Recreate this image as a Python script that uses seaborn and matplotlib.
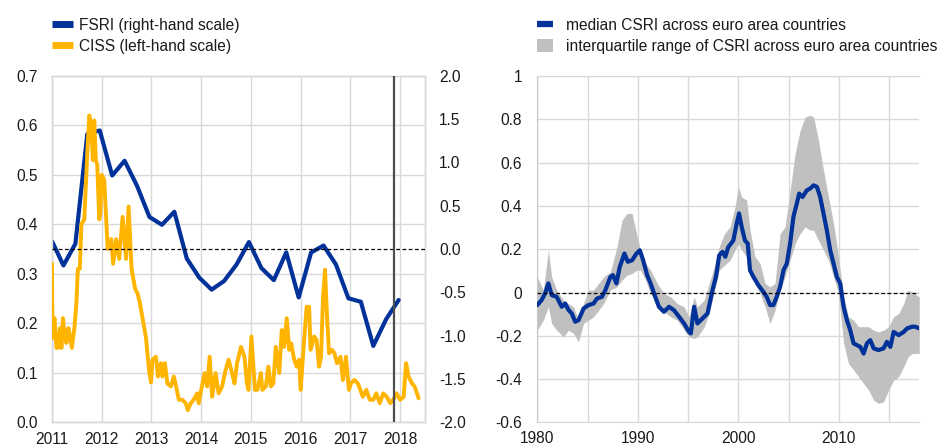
import matplotlib
matplotlib.use("Agg")
import matplotlib.pyplot as plt
import matplotlib.transforms as mtransforms
from matplotlib.lines import Line2D
from matplotlib.patches import Patch
import numpy as np
import pandas as pd
import seaborn as sns

# ---------------- data ----------------
# Left panel: FSRI (right-hand scale), quarterly
fsri_year = [2011.00, 2011.23, 2011.47, 2011.71, 2011.96, 2012.21, 2012.46, 2012.71,
             2012.96, 2013.21, 2013.46, 2013.71, 2013.96, 2014.21, 2014.46, 2014.71,
             2014.96, 2015.21, 2015.46, 2015.71, 2015.96, 2016.21, 2016.46, 2016.71,
             2016.96, 2017.21, 2017.46, 2017.72, 2017.97]
fsri_value = [0.09, -0.19, 0.06, 1.33, 1.37, 0.85, 1.02, 0.73,
              0.37, 0.28, 0.43, -0.11, -0.33, -0.47, -0.37, -0.18,
              0.08, -0.22, -0.36, -0.04, -0.56, -0.04, 0.04, -0.18,
              -0.57, -0.61, -1.12, -0.81, -0.59]

# Left panel: CISS (left-hand scale), weekly-ish readings
ciss_year = [2011.00, 2011.01, 2011.05, 2011.09, 2011.12, 2011.16, 2011.19, 2011.22, 2011.26,
             2011.29, 2011.33, 2011.35, 2011.40, 2011.45, 2011.49, 2011.52, 2011.56, 2011.59,
             2011.65, 2011.71, 2011.75, 2011.79, 2011.82, 2011.85, 2011.88, 2011.91, 2011.95,
             2011.97, 2012.00, 2012.05, 2012.12,
             2012.19, 2012.23, 2012.29, 2012.35, 2012.42, 2012.49,
             2012.54, 2012.60, 2012.67, 2012.72, 2012.77, 2012.82, 2012.89,
             2012.95, 2012.99, 2013.02, 2013.09, 2013.13, 2013.19, 2013.22, 2013.27, 2013.32,
             2013.39, 2013.45, 2013.51, 2013.55, 2013.62, 2013.69, 2013.73, 2013.79, 2013.85,
             2013.92, 2013.95, 2014.00, 2014.07, 2014.12, 2014.17, 2014.22, 2014.29, 2014.35,
             2014.42, 2014.49, 2014.55, 2014.62, 2014.67, 2014.72, 2014.80, 2014.87, 2014.92,
             2014.95, 2015.01, 2015.08, 2015.13, 2015.20, 2015.23, 2015.30, 2015.35, 2015.40,
             2015.45, 2015.50, 2015.57, 2015.62, 2015.67, 2015.72, 2015.77, 2015.81, 2015.87,
             2015.92, 2015.97, 2016.00, 2016.05, 2016.12, 2016.17, 2016.20, 2016.27, 2016.32,
             2016.37, 2016.41, 2016.45, 2016.49, 2016.53, 2016.57, 2016.63, 2016.68, 2016.73,
             2016.80, 2016.85, 2016.91, 2016.97, 2017.01, 2017.08, 2017.15, 2017.20, 2017.25,
             2017.32, 2017.39, 2017.46, 2017.52, 2017.59, 2017.66, 2017.73, 2017.80, 2017.86,
             2017.93, 2018.00, 2018.07, 2018.12, 2018.17, 2018.24, 2018.29, 2018.34, 2018.37]
ciss_value = [0.32, 0.17, 0.21, 0.15, 0.15, 0.19, 0.15, 0.21, 0.17,
              0.16, 0.19, 0.18, 0.15, 0.19, 0.24, 0.31, 0.31, 0.40,
              0.41, 0.545, 0.62, 0.60, 0.53, 0.61, 0.53, 0.52, 0.41,
              0.42, 0.50, 0.49, 0.35,
              0.37, 0.32, 0.37, 0.33, 0.415, 0.33,
              0.436, 0.31, 0.27, 0.26, 0.24, 0.21, 0.17,
              0.105, 0.08, 0.126, 0.132, 0.092, 0.119, 0.092, 0.119, 0.078,
              0.072, 0.092, 0.065, 0.045, 0.045, 0.038, 0.024, 0.038, 0.045,
              0.058, 0.038, 0.065, 0.099, 0.072, 0.132, 0.051, 0.099, 0.058,
              0.072, 0.105, 0.126, 0.099, 0.078, 0.119, 0.152, 0.132, 0.078,
              0.065, 0.173, 0.065, 0.065, 0.099, 0.065, 0.072, 0.112, 0.072,
              0.078, 0.152, 0.099, 0.186, 0.152, 0.210, 0.146, 0.159, 0.126,
              0.112, 0.126, 0.065, 0.139, 0.233, 0.233, 0.146, 0.173, 0.166,
              0.112, 0.132, 0.254, 0.308, 0.213, 0.139, 0.146, 0.139, 0.119,
              0.132, 0.085, 0.132, 0.065, 0.078, 0.085, 0.078, 0.065, 0.051,
              0.065, 0.045, 0.045, 0.058, 0.038, 0.058, 0.051, 0.038, 0.045,
              0.058, 0.045, 0.051, 0.119, 0.092, 0.078, 0.072, 0.058, 0.048]

# Right panel: median CSRI across euro area countries
csri_year = [1980.00, 1980.43, 1980.77, 1981.10, 1981.43, 1981.93, 1982.43, 1982.77, 1983.10,
             1983.43, 1983.77, 1984.10, 1984.60, 1985.10, 1985.60, 1985.93, 1986.43, 1986.77,
             1987.27, 1987.53, 1987.87, 1988.20, 1988.67, 1989.00, 1989.43, 1989.87, 1990.20,
             1990.53, 1990.93, 1991.27, 1991.67, 1992.10, 1992.60, 1993.10, 1993.60, 1994.10,
             1994.60, 1995.10, 1995.27, 1995.60, 1995.93, 1996.43, 1996.93, 1997.43, 1997.77,
             1998.10, 1998.43, 1998.70, 1999.00, 1999.50, 1999.83, 2000.07, 2000.33, 2000.66,
             2000.93, 2001.16, 2001.50, 2001.99, 2002.49, 2002.82, 2003.16, 2003.49, 2003.82,
             2004.15, 2004.49, 2004.82, 2005.15, 2005.48, 2005.81, 2006.05, 2006.38, 2006.81,
             2007.14, 2007.48, 2007.81, 2008.14, 2008.47, 2008.80, 2009.14, 2009.47, 2009.80,
             2010.13, 2010.47, 2010.80, 2011.13, 2011.46, 2011.79, 2012.13, 2012.46, 2012.79,
             2013.12, 2013.46, 2013.95, 2014.45, 2014.78, 2015.12, 2015.45, 2015.95, 2016.45,
             2016.78, 2017.28, 2017.61, 2018.00]
csri_median = [-0.058, -0.035, -0.005, 0.042, -0.012, -0.020, -0.066, -0.051, -0.080,
               -0.097, -0.135, -0.128, -0.074, -0.058, -0.051, -0.028, -0.020, 0.011,
               0.072, 0.080, 0.042, 0.118, 0.180, 0.142, 0.149, 0.180, 0.195,
               0.149, 0.080, 0.042, -0.012, -0.066, -0.089, -0.066, -0.082, -0.112,
               -0.143, -0.182, -0.189, -0.066, -0.143, -0.120, -0.097, 0.011, 0.072,
               0.172, 0.188, 0.165, 0.210, 0.240, 0.318, 0.365, 0.303, 0.240,
               0.226, 0.103, 0.072, 0.034, 0.003, -0.020, -0.058, -0.058, -0.020,
               0.026, 0.103, 0.134, 0.226, 0.350, 0.410, 0.457, 0.441, 0.472,
               0.480, 0.495, 0.488, 0.441, 0.365, 0.288, 0.195, 0.134, 0.072,
               0.042, -0.066, -0.128, -0.174, -0.235, -0.243, -0.251, -0.282, -0.235,
               -0.220, -0.258, -0.266, -0.258, -0.228, -0.251, -0.182, -0.197, -0.182,
               -0.166, -0.158, -0.158, -0.166]

# Right panel: interquartile range of CSRI across euro area countries
iqr_year = [1980.00, 1980.60, 1981.10, 1981.43, 1981.93, 1982.60, 1983.10, 1983.60, 1984.10,
            1984.60, 1985.10, 1985.60, 1986.10, 1986.60, 1987.27, 1987.93, 1988.43, 1988.93,
            1989.43, 1989.87, 1990.27, 1990.77, 1991.27, 1991.93, 1992.60, 1993.27, 1993.93,
            1994.60, 1995.10, 1995.60, 1995.93, 1996.60, 1997.10, 1997.60, 1998.10, 1998.60,
            1999.17, 1999.67, 2000.00, 2000.33, 2000.83, 2001.16, 2001.66, 2002.16, 2002.66,
            2003.16, 2003.65, 2004.15, 2004.65, 2005.15, 2005.65, 2006.15, 2006.64, 2007.14,
            2007.48, 2007.97, 2008.47, 2008.97, 2009.47, 2009.97, 2010.47, 2010.96, 2011.46,
            2011.96, 2012.46, 2012.96, 2013.46, 2013.95, 2014.45, 2014.95, 2015.45, 2015.95,
            2016.45, 2016.88, 2017.28, 2018.00]
iqr_upper = [0.072, 0.011, 0.195, 0.072, 0.011, -0.035, -0.051, -0.066, -0.128,
             -0.051, 0.011, 0.011, 0.042, 0.072, 0.095, 0.211, 0.334, 0.365,
             0.365, 0.272, 0.195, 0.134, 0.103, 0.042, -0.005, -0.020, -0.051,
             -0.066, -0.112, -0.020, -0.066, -0.035, 0.042, 0.118, 0.211, 0.270,
             0.303, 0.395, 0.488, 0.441, 0.426, 0.288, 0.165, 0.134, 0.042,
             0.026, 0.042, 0.272, 0.303, 0.472, 0.641, 0.749, 0.811, 0.818,
             0.811, 0.703, 0.565, 0.441, 0.318, 0.165, -0.020, -0.112, -0.128,
             -0.158, -0.158, -0.158, -0.174, -0.182, -0.174, -0.158, -0.112, -0.097,
             -0.051, 0.011, 0.003, -0.020]
iqr_lower = [-0.174, -0.128, -0.066, -0.143, -0.174, -0.205, -0.174, -0.189, -0.228,
             -0.143, -0.128, -0.112, -0.082, -0.051, 0.011, 0.026, 0.057, 0.080,
             0.088, 0.103, 0.103, 0.057, -0.005, -0.051, -0.089, -0.112, -0.128,
             -0.174, -0.205, -0.212, -0.205, -0.159, -0.097, 0.003, 0.103, 0.125,
             0.149, 0.195, 0.226, 0.195, 0.165, 0.118, 0.042, -0.005, -0.066,
             -0.143, -0.082, 0.011, 0.072, 0.149, 0.226, 0.272, 0.303, 0.288,
             0.288, 0.241, 0.195, 0.149, 0.072, -0.005, -0.235, -0.328, -0.358,
             -0.389, -0.420, -0.451, -0.497, -0.512, -0.505, -0.451, -0.405, -0.389,
             -0.343, -0.297, -0.282, -0.282]

left_xticks = [2011, 2012, 2013, 2014, 2015, 2016, 2017, 2018]
ciss_ticks = [0.0, 0.1, 0.2, 0.3, 0.4, 0.5, 0.6, 0.7]
fsri_ticks = [-2.0, -1.5, -1.0, -0.5, 0.0, 0.5, 1.0, 1.5, 2.0]
right_xticks = [1980, 1990, 2000, 2010]
right_xminor = [1985, 1995, 2005, 2015]
right_yticks = [-0.6, -0.4, -0.2, 0, 0.2, 0.4, 0.6, 0.8, 1]
marker_line_year = 2017.88

legend_left = ["FSRI (right-hand scale)", "CISS (left-hand scale)"]
legend_right = ["median CSRI across euro area countries",
                "interquartile range of CSRI across euro area countries"]

# ---------------- style ----------------
sns.set_style("white")
plt.rcParams["font.family"] = ["Liberation Sans", "DejaVu Sans"]
FS = 11.2
plt.rcParams["font.size"] = FS
plt.rcParams["axes.unicode_minus"] = False

BLUE = "#003299"
YELLOW = "#FFB400"
GREY = "#C0C0C0"
GRID = "#D9D9D9"
TXT = "#1a1a1a"

fig = plt.figure(figsize=(9.49, 4.48), dpi=100)

W, H = 949, 448
def rect(x0, x1, y_top, y_bot):
    return [x0 / W, 1 - y_bot / H, (x1 - x0) / W, (y_bot - y_top) / H]

# ---------------- left panel ----------------
axC = fig.add_axes(rect(52, 425, 76, 422))   # CISS, left-hand scale (drawn on top)
axF = axC.twinx()                              # FSRI, right-hand scale (drawn below)
axC.set_zorder(2)
axF.set_zorder(1)
axC.patch.set_visible(False)

axC.set_xlim(2011, 2018.5)
axC.set_ylim(0, 0.7)
axF.set_ylim(-2, 2)

# grid (drawn in lower axes so lines sit below the series)
for yr in left_xticks:
    axF.axvline(yr, color=GRID, lw=1.0, zorder=0)
blend = mtransforms.blended_transform_factory(axF.transAxes, axC.transData)
axF.hlines(ciss_ticks, 0, 1, transform=blend, color=GRID, lw=1.0, zorder=0)

df_f = pd.DataFrame({"year": fsri_year, "value": fsri_value})
sns.lineplot(data=df_f, x="year", y="value", ax=axF, color=BLUE, lw=3.0,
             estimator=None, zorder=3)
df_c = pd.DataFrame({"year": ciss_year, "value": ciss_value})
sns.lineplot(data=df_c, x="year", y="value", ax=axC, color=YELLOW, lw=2.8,
             estimator=None, zorder=3)

blend0 = mtransforms.blended_transform_factory(axC.transAxes, axF.transData)
axC.plot([0, 1], [0, 0], transform=blend0, color="black", lw=0.9,
         ls=(0, (3, 2)), zorder=4)
axC.axvline(marker_line_year, color="#4D4D4D", lw=1.6, zorder=5)

axC.set_xticks(left_xticks)
axC.set_xticklabels([str(y) for y in left_xticks])
axC.set_yticks(ciss_ticks)
axC.set_yticklabels([f"{v:.1f}" for v in ciss_ticks])
axF.set_yticks(fsri_ticks)
axF.set_yticklabels([f"{v:.1f}" for v in fsri_ticks])
for a in (axC, axF):
    a.set_xlabel("")
    a.set_ylabel("")
    for s in a.spines.values():
        s.set_color(GRID)
        s.set_linewidth(1.0)
    a.tick_params(length=0, labelsize=FS, colors=TXT)
axC.tick_params(axis="y", pad=10)
axC.tick_params(axis="x", pad=7)
axF.tick_params(axis="y", pad=10)

leg_l = [Line2D([0], [0], color=BLUE, lw=5, solid_capstyle="butt"),
         Line2D([0], [0], color=YELLOW, lw=5, solid_capstyle="butt")]
fig.legend(leg_l, legend_left, loc="upper left", bbox_to_anchor=(52 / W, 1 - 18 / H),
           frameon=False, borderpad=0, borderaxespad=0, handlelength=1.35,
           handleheight=1.0, handletextpad=0.4, labelspacing=0.34, fontsize=FS,
           labelcolor=TXT)

# ---------------- right panel ----------------
axP = fig.add_axes(rect(537.3, 919.3, 76, 422.4))
axP.set_xlim(1980, 2018)
axP.set_ylim(-0.6, 1.0)
axP.set_xticks(right_xticks)
axP.set_xticks(right_xminor, minor=True)
axP.set_yticks(right_yticks)
axP.set_xticklabels([str(y) for y in right_xticks])
axP.set_yticklabels([f"{v:g}" for v in right_yticks])
axP.grid(True, which="both", color=GRID, lw=1.0)
axP.set_axisbelow(True)

axP.fill_between(iqr_year, iqr_lower, iqr_upper, color=GREY, lw=0, zorder=2)
df_m = pd.DataFrame({"year": csri_year, "value": csri_median})
sns.lineplot(data=df_m, x="year", y="value", ax=axP, color=BLUE, lw=3.0,
             estimator=None, zorder=3)
axP.axhline(0, color="black", lw=0.9, ls=(0, (3, 2)), zorder=4)

axP.set_xlabel("")
axP.set_ylabel("")
axP.spines["right"].set_visible(False)
for k in ("left", "top", "bottom"):
    axP.spines[k].set_color(GRID)
axP.spines["left"].set_color("#C8C8C8")
axP.tick_params(which="both", length=0, labelsize=FS, colors=TXT)
axP.tick_params(axis="y", pad=11)
axP.tick_params(axis="x", pad=6)

leg_r = [Line2D([0], [0], color=BLUE, lw=4.5, solid_capstyle="butt"),
         Patch(facecolor=GREY, edgecolor="none")]
fig.legend(leg_r, legend_right, loc="upper left", bbox_to_anchor=(537 / W, 1 - 18 / H),
           frameon=False, borderpad=0, borderaxespad=0, handlelength=1.03,
           handleheight=1.0, handletextpad=0.83, labelspacing=0.34, fontsize=FS,
           labelcolor=TXT)

fig.savefig("out.png", dpi=100, facecolor="white")
